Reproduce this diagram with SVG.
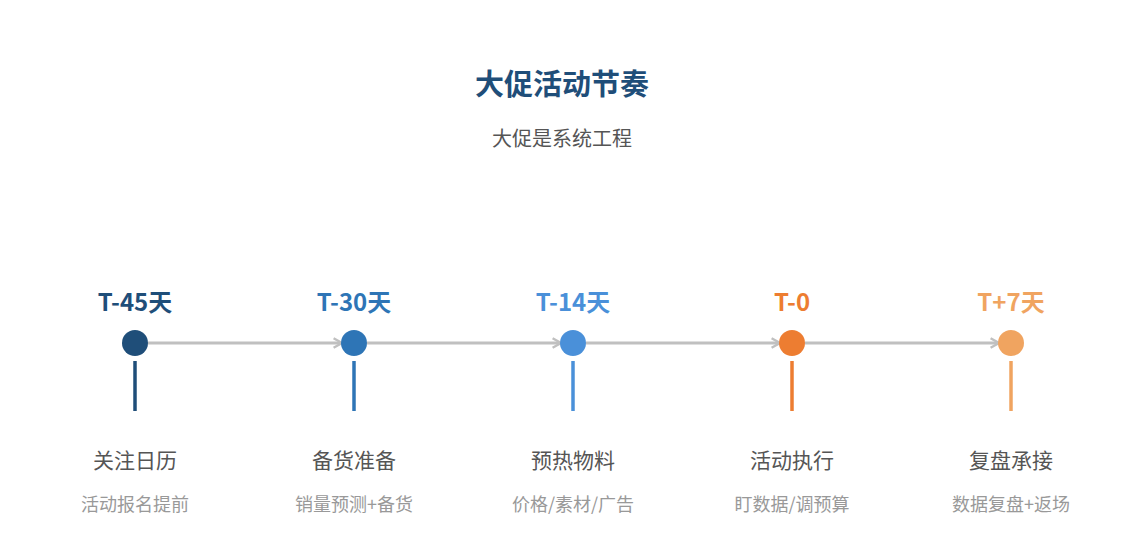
<svg xmlns="http://www.w3.org/2000/svg" width="1125" height="555" viewBox="0 0 1125 555">
<style>
text{font-family:"Noto Sans CJK SC","Open Sans","Liberation Sans",sans-serif;text-anchor:middle}
.title{font-size:29px;font-weight:700;fill:#1f4e79}
.sub{font-size:20px;fill:#555}
.t{font-size:24px;font-weight:700}
.name{font-size:21px;fill:#555}
.desc{font-size:18px;fill:#999}
.conn{stroke:#c0c0c0;stroke-width:3;fill:none}
.stem{stroke-width:3.5}
</style>
<defs>
<marker id="arr" viewBox="0 0 10 10" refX="8" refY="5" markerWidth="4" markerHeight="4" orient="auto" markerUnits="strokeWidth">
<path d="M1,1 L8,5 L1,9" fill="none" stroke="#c0c0c0" stroke-width="2"/>
</marker>
</defs>
<rect width="1125" height="555" fill="#fff"/>
<text class="title" x="562" y="95">大促活动节奏</text>
<text class="sub" x="562" y="146">大促是系统工程</text>
<g id="connectors">
<line class="conn" x1="148" y1="343" x2="342" y2="343" marker-end="url(#arr)"/>
<line class="conn" x1="367" y1="343" x2="561" y2="343" marker-end="url(#arr)"/>
<line class="conn" x1="586" y1="343" x2="780" y2="343" marker-end="url(#arr)"/>
<line class="conn" x1="805" y1="343" x2="999" y2="343" marker-end="url(#arr)"/>
</g>
<g id="n1">
<text class="t" x="135" y="311" fill="#1f4e79">T-45天</text>
<circle cx="135" cy="343" r="13" fill="#1f4e79"/>
<line class="stem" x1="135" y1="361" x2="135" y2="411" stroke="#1f4e79"/>
<text class="name" x="135" y="468">关注日历</text>
<text class="desc" x="135" y="511">活动报名提前</text>
</g>
<g id="n2">
<text class="t" x="354" y="311" fill="#2e75b6">T-30天</text>
<circle cx="354" cy="343" r="13" fill="#2e75b6"/>
<line class="stem" x1="354" y1="361" x2="354" y2="411" stroke="#2e75b6"/>
<text class="name" x="354" y="468">备货准备</text>
<text class="desc" x="354" y="511">销量预测+备货</text>
</g>
<g id="n3">
<text class="t" x="573" y="311" fill="#4a90d9">T-14天</text>
<circle cx="573" cy="343" r="13" fill="#4a90d9"/>
<line class="stem" x1="573" y1="361" x2="573" y2="411" stroke="#4a90d9"/>
<text class="name" x="573" y="468">预热物料</text>
<text class="desc" x="573" y="511">价格/素材/广告</text>
</g>
<g id="n4">
<text class="t" x="792" y="311" fill="#ed7d31">T-0</text>
<circle cx="792" cy="343" r="13" fill="#ed7d31"/>
<line class="stem" x1="792" y1="361" x2="792" y2="411" stroke="#ed7d31"/>
<text class="name" x="792" y="468">活动执行</text>
<text class="desc" x="792" y="511">盯数据/调预算</text>
</g>
<g id="n5">
<text class="t" x="1011" y="311" fill="#f0a460">T+7天</text>
<circle cx="1011" cy="343" r="13" fill="#f0a460"/>
<line class="stem" x1="1011" y1="361" x2="1011" y2="411" stroke="#f0a460"/>
<text class="name" x="1011" y="468">复盘承接</text>
<text class="desc" x="1011" y="511">数据复盘+返场</text>
</g>
</svg>
